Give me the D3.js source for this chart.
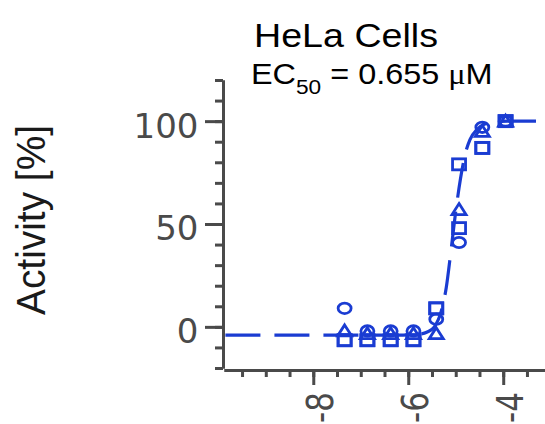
<!DOCTYPE html>
<html>
<head>
<meta charset="utf-8">
<script src="https://cdn.jsdelivr.net/npm/d3@7"></script>
<style>
  html, body { margin: 0; padding: 0; background: #ffffff; }
  svg { display: block; }
</style>
</head>
<body>
<script>
// ---- data ----
const logConc = [-7.34, -6.86, -6.37, -5.89, -5.41, -4.93, -4.44, -3.95];
const circles   = [9, -2, -2, -2, 3.7, 41, 97, 100];
const triangles = [-2, -3.3, -3.3, -3.3, -3.3, 57, 95, 100];
const squaresA  = [-6.5, -6.5, -6.5, -6.5, 9, 79, 87, 100];
const squaresB  = [-6.5, -6.5, -6.5, -6.5, 9, 48, 87, 100];
// fitted curve
const fitX = [-9.85, -6.2, -5.8, -5.6, -5.45, -5.3, -5.2, -5.1, -5.0, -4.9, -4.8, -4.7, -4.55, -4.4, -4.2, -3.9, -3.0];
const fitY = [-4, -4, -3.6, -2.5, 0, 8, 19, 37, 56, 72, 84, 91, 96, 98.5, 99.5, 100, 100];
const yMinorTicks = d3.range(-20, 121, 10);
const yMajorTicks = [0, 50, 100];
const xMinorTicks = d3.range(-9.5, -3.4, 0.5);
const xMajorTicks = [-8, -6, -4];
const title = "HeLa Cells";
const yLabel = "Activity [%]";

// ---- layout ----
const W = 545, H = 424;
const blue = "#1a3cd2";
const axisCol = "#4a4a4a";

const svg = d3.select("body").append("svg").attr("width", W).attr("height", H);

const x = d3.scaleLinear().domain([-9.88, -3.12]).range([224, 545]);
const y = d3.scaleLinear().domain([-20, 120]).range([368, 80]);

// ---- y axis ----
const yAxisX = 223;
svg.append("g").attr("transform", `translate(${yAxisX},0)`)
  .call(d3.axisLeft(y).tickValues(yMinorTicks).tickSize(8).tickSizeOuter(0).tickFormat(""));
const gyMajor = svg.append("g").attr("transform", `translate(${yAxisX},0)`)
  .call(d3.axisLeft(y).tickValues(yMajorTicks).tickSize(18).tickSizeOuter(0).tickPadding(6.5).tickFormat(d => String(d)));
gyMajor.selectAll("text")
  .attr("dy", "0.47em")
  .style("font-family", "'DejaVu Sans', sans-serif")
  .style("font-size", "34px")
  .attr("fill", axisCol);

// ---- x axis ----
const xAxisY = 370;
svg.append("g").attr("transform", `translate(0,${xAxisY})`)
  .call(d3.axisBottom(x).tickValues(xMinorTicks).tickSize(7).tickSizeOuter(0).tickFormat(""));
const gxMajor = svg.append("g").attr("transform", `translate(0,${xAxisY})`)
  .call(d3.axisBottom(x).tickValues(xMajorTicks).tickSize(15).tickSizeOuter(0).tickFormat(d => String(d)));
gxMajor.selectAll("text")
  .attr("y", null).attr("dy", null)
  .attr("text-anchor", "end")
  .attr("transform", "translate(19,22) scale(1.2,1) rotate(-90)")
  .style("font-family", "'DejaVu Sans', sans-serif")
  .style("font-size", "31px")
  .attr("fill", axisCol);

svg.selectAll(".domain, .tick line")
  .attr("stroke", axisCol)
  .attr("stroke-width", 3);

// ---- fitted curve ----
const fit = fitX.map((v, i) => [v, fitY[i]]);
svg.append("path")
  .datum(fit)
  .attr("fill", "none")
  .attr("stroke", blue)
  .attr("stroke-width", 3.2)
  .attr("stroke-dasharray", "35 14")
  .attr("d", d3.line().x(d => x(d[0])).y(d => y(d[1])).curve(d3.curveMonotoneX));

// ---- markers ----
const mk = svg.append("g").attr("fill", "none").attr("stroke", blue).attr("stroke-width", 2.8);
const sq = (vals) => vals.map((v, i) => ({ c: logConc[i], v }));

mk.selectAll("rect.a").data(sq(squaresA)).join("rect")
  .attr("x", d => x(d.c) - 6.5).attr("y", d => y(d.v) - 5.5)
  .attr("width", 13).attr("height", 11);
mk.selectAll("rect.b").data(sq(squaresB)).join("rect")
  .attr("x", d => x(d.c) - 6.5).attr("y", d => y(d.v) - 5.5)
  .attr("width", 13).attr("height", 11);
mk.selectAll("path.tri").data(sq(triangles)).join("path")
  .attr("d", d => {
    const cx = x(d.c), cy = y(d.v);
    return `M${cx},${cy - 6}L${cx + 7},${cy + 5}L${cx - 7},${cy + 5}Z`;
  });
mk.selectAll("ellipse").data(sq(circles)).join("ellipse")
  .attr("cx", d => x(d.c)).attr("cy", d => y(d.v))
  .attr("rx", 6.5).attr("ry", 5.2);

// ---- texts ----
svg.append("text")
  .attr("x", 254).attr("y", 47)
  .attr("textLength", 184).attr("lengthAdjust", "spacingAndGlyphs")
  .style("font-family", "'Liberation Sans', Arial, sans-serif")
  .style("font-size", "33px")
  .attr("fill", "#000")
  .text(title);

const ec = svg.append("g").attr("transform", "translate(251,84) scale(1.08,1)")
  .append("text")
  .style("font-family", "'Liberation Sans', Arial, sans-serif")
  .style("font-size", "30px")
  .attr("fill", "#000");
ec.append("tspan").text("EC");
ec.append("tspan").attr("dy", 10).style("font-size", "21px").text("50");
ec.append("tspan").attr("dy", -10).text(" = 0.655 ");
ec.append("tspan").style("font-family", "'Liberation Serif', serif").text("\u03bc");
ec.append("tspan").text("M");

svg.append("text")
  .attr("transform", "translate(45,220) scale(1.15,1) rotate(-90)")
  .attr("text-anchor", "middle")
  .attr("textLength", 190).attr("lengthAdjust", "spacingAndGlyphs")
  .style("font-family", "'Liberation Sans', Arial, sans-serif")
  .style("font-size", "36px")
  .attr("fill", "#1a1a1a")
  .text(yLabel);
</script>
</body>
</html>
